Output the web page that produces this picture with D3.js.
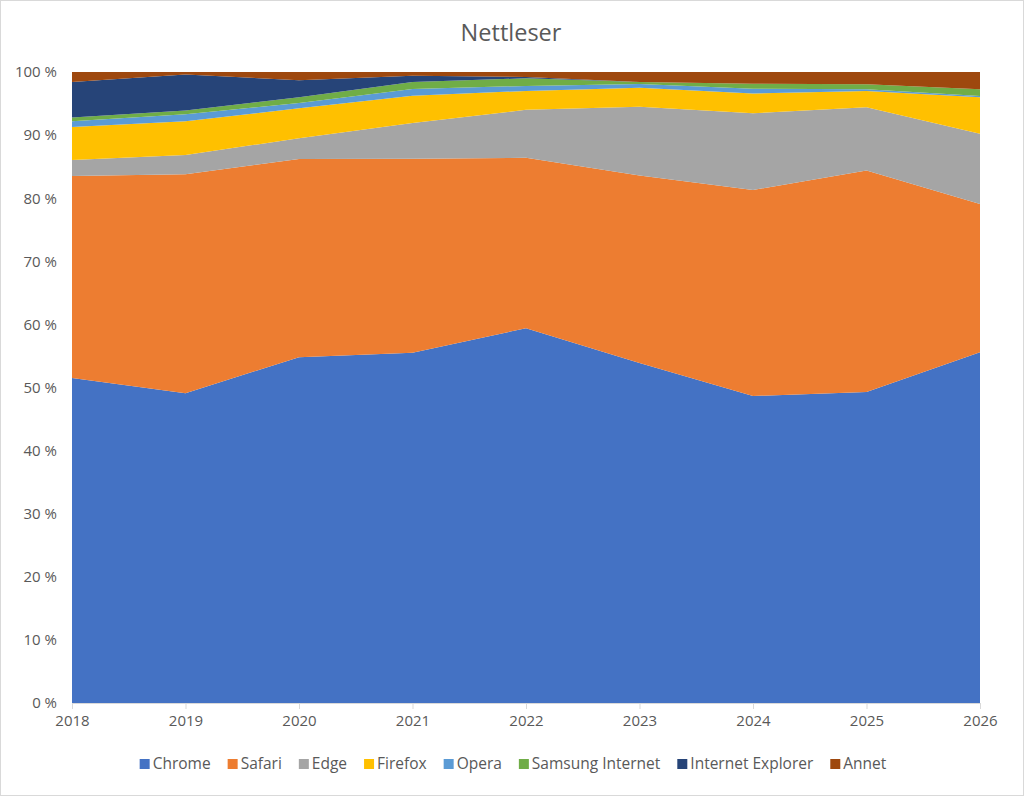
<!DOCTYPE html>
<html><head><meta charset="utf-8">
<script src="https://cdn.jsdelivr.net/npm/d3@7"></script>
<style>body{margin:0;background:#fff}svg{display:block}text{font-family:"Open Sans","Noto Sans",sans-serif;fill:#595959}</style>
</head><body>
<svg id="c" width="1024" height="796"></svg>
<script>
const years = [2018,2019,2020,2021,2022,2023,2024,2025,2026];
const seriesNames = ["Chrome","Safari","Edge","Firefox","Opera","Samsung Internet","Internet Explorer","Annet"];
const chrome   = [51.5,49.1,54.8,55.5,59.4,53.9,48.65,49.3,55.6];
const safari   = [32.0,34.7,31.4,30.75,27.0,29.7,32.65,35.1,23.5];
const edge     = [2.55,3.05,3.3,5.65,7.6,10.9,12.15,10.0,11.1];
const firefox  = [5.25,5.35,4.75,4.35,3.0,3.0,3.15,2.6,5.8];
const opera    = [0.9,1.1,0.85,1.05,0.8,0.6,0.75,0.25,0.2];
const samsung  = [0.6,0.6,0.9,1.1,1.2,0.3,0.8,0.8,1.05];
const ie       = [5.6,5.7,2.7,1.0,0.2,0,0,0,0];
const annet    = [1.6,0.4,1.3,0.6,0.8,1.6,1.85,1.95,2.75];
const yTicks = [0,10,20,30,40,50,60,70,80,90,100];
const colors = ["#4472C4","#ED7D31","#A5A5A5","#FFC000","#5B9BD5","#70AD47","#264478","#9E480E"];

const all = [chrome,safari,edge,firefox,opera,samsung,ie,annet];
const rows = years.map((y,i)=>{const r={year:y};seriesNames.forEach((n,k)=>r[n]=all[k][i]);return r;});
const svg = d3.select("#c");
svg.append("rect").attr("x",0.5).attr("y",0.5).attr("width",1023).attr("height",795).attr("fill","#fff").attr("stroke","#d9d9d9");

const x = d3.scaleLinear().domain([2018,2026]).range([72,980]);
const y = d3.scaleLinear().domain([0,100]).range([703,72]);
const stack = d3.stack().keys(seriesNames)(rows);
const area = d3.area().x(d=>x(d.data.year)).y0(d=>y(d[0])).y1(d=>y(d[1]));
svg.append("g").selectAll("path").data(stack).join("path")
  .attr("d",area).attr("fill",(d,i)=>colors[i]);

// axes
const xa = svg.append("g").attr("transform","translate(0,703)")
  .call(d3.axisBottom(x).tickValues(years).tickFormat(d3.format("d")).tickSize(6).tickPadding(6));
xa.select(".domain").attr("stroke","#d9d9d9");
xa.selectAll(".tick line").attr("stroke","#d9d9d9");
xa.selectAll("text").attr("font-size",15).attr("fill","#595959");

const ya = svg.append("g").attr("transform","translate(72,0)")
  .call(d3.axisLeft(y).tickValues(yTicks).tickFormat(d=>d+" %").tickSize(0).tickPadding(15));
ya.select(".domain").remove();
ya.selectAll("text").attr("font-size",15).attr("fill","#595959");

svg.append("text").attr("x",511).attr("y",41).attr("text-anchor","middle")
  .attr("font-size",23.5).text("Nettleser");

// legend
const lg = svg.append("g");
let cx = 0;
seriesNames.forEach((n,i)=>{
  const g = lg.append("g");
  g.append("rect").attr("x",0).attr("y",-10).attr("width",10).attr("height",10).attr("fill",colors[i]);
  const t = g.append("text").attr("x",13).attr("y",0).attr("font-size",15.5).text(n);
  const w = 13 + t.node().getComputedTextLength();
  g.attr("transform",`translate(${cx},0)`);
  cx += w + 17;
});
const total = cx - 17;
lg.attr("transform",`translate(${513-total/2},769)`);
</script>
</body></html>
